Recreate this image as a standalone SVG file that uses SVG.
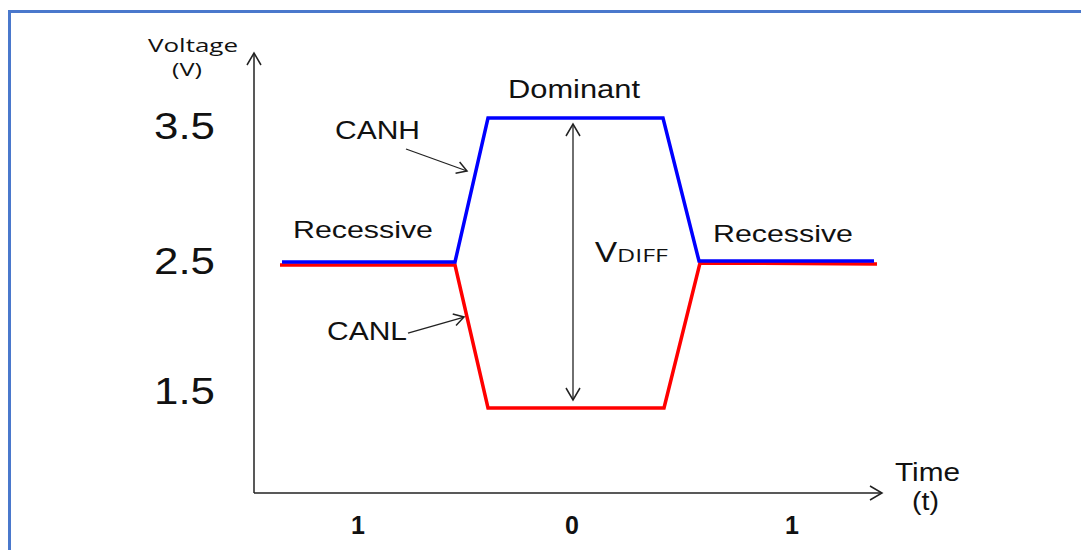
<svg xmlns="http://www.w3.org/2000/svg" width="1081" height="550" viewBox="0 0 1081 550">
<style>
.t{font-family:"Liberation Sans",Arial,sans-serif;fill:#111}
.o{font-family:"Open Sans","Noto Sans",sans-serif;fill:#111}
.ax{stroke:#222;stroke-width:1.5;fill:none}
.ar{stroke:#222;stroke-width:1.3;fill:none}
</style>
<defs>
<marker id="ah" markerWidth="14" markerHeight="14" refX="12" refY="7" orient="auto" markerUnits="userSpaceOnUse">
<path d="M2,1 L12,7 L2,13" fill="none" stroke="#222" stroke-width="1.5"/>
</marker>
<marker id="ahs" markerWidth="16" markerHeight="16" refX="14" refY="8" orient="auto-start-reverse" markerUnits="userSpaceOnUse">
<path d="M2,1 L14,8 L2,15" fill="none" stroke="#222" stroke-width="1.5"/>
</marker>
</defs>
<rect x="0" y="0" width="1081" height="550" fill="#fff"/>
<path d="M9.5,560 V11.5 H1090" fill="none" stroke="#4a78cc" stroke-width="3"/>
<g id="axes">
<line class="ax" x1="254" y1="493" x2="254" y2="53" marker-end="url(#ahs)"/>
<line class="ax" x1="254" y1="493" x2="882" y2="493" marker-end="url(#ahs)"/>
</g>
<g id="labels">
<text class="o" x="148" y="52" font-size="19" textLength="90" lengthAdjust="spacingAndGlyphs">Voltage</text>
<text class="o" x="172" y="76" font-size="19" textLength="30" lengthAdjust="spacingAndGlyphs">(V)</text>
<text class="t" x="154" y="139" font-size="37" textLength="61" lengthAdjust="spacingAndGlyphs">3.5</text>
<text class="t" x="154" y="274" font-size="37" textLength="61" lengthAdjust="spacingAndGlyphs">2.5</text>
<text class="t" x="154" y="404" font-size="37" textLength="61" lengthAdjust="spacingAndGlyphs">1.5</text>
<text class="t" x="895" y="481" font-size="26" textLength="65" lengthAdjust="spacingAndGlyphs">Time</text>
<text class="t" x="912" y="510" font-size="26" textLength="27" lengthAdjust="spacingAndGlyphs">(t)</text>
<text class="t" x="358" y="534" font-size="25" font-weight="bold" text-anchor="middle">1</text>
<text class="t" x="572" y="534" font-size="25" font-weight="bold" text-anchor="middle">0</text>
<text class="t" x="792" y="534" font-size="25" font-weight="bold" text-anchor="middle">1</text>
</g>
<g id="signals" fill="none" stroke-width="3.5" stroke-linejoin="miter">
<polyline id="canl-line" stroke="#ff0000" points="280,265 455,265 488,408 664,408 700,263 877,264"/>
<polyline id="canh-line" stroke="#0000ff" points="282,262 455,262 488,118 663,118 699,261 874,261"/>
</g>
<g id="connectors">
<line class="ar" x1="573" y1="400" x2="573" y2="124" marker-end="url(#ahs)" marker-start="url(#ahs)"/>
<line class="ar" x1="406" y1="149" x2="467" y2="171" marker-end="url(#ah)"/>
<line class="ar" x1="408" y1="333" x2="464" y2="317" marker-end="url(#ah)"/>
</g>
<g id="dominant"><text class="t" x="508" y="98" font-size="25" textLength="132" lengthAdjust="spacingAndGlyphs">Dominant</text></g>
<g id="recessive-left"><text class="t" x="293" y="238" font-size="24" textLength="140" lengthAdjust="spacingAndGlyphs">Recessive</text></g>
<g id="recessive-right"><text class="t" x="713" y="242" font-size="24" textLength="140" lengthAdjust="spacingAndGlyphs">Recessive</text></g>
<g id="canh"><text class="t" x="335" y="139" font-size="26" textLength="85" lengthAdjust="spacingAndGlyphs">CANH</text></g>
<g id="canl"><text class="t" x="327" y="340" font-size="26" textLength="80" lengthAdjust="spacingAndGlyphs">CANL</text></g>
<g id="vdiff"><text class="o" x="595" y="262" font-size="28" textLength="73" lengthAdjust="spacingAndGlyphs">V<tspan font-size="19">DIFF</tspan></text></g>
</svg>
